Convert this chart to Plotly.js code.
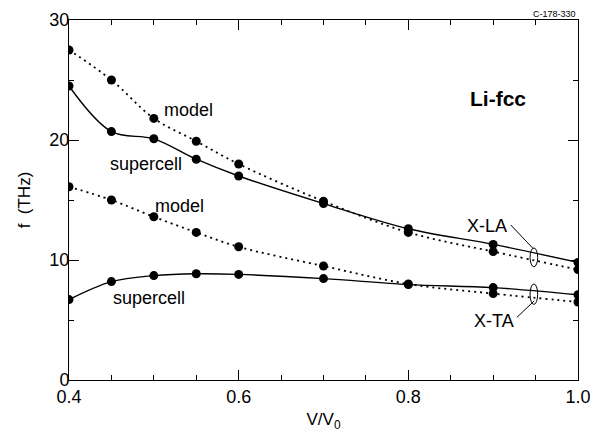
<!DOCTYPE html>
<html>
<head>
<meta charset="utf-8">
<script src="https://cdn.plot.ly/plotly-3.0.1.min.js"></script>
<style>
  html, body { margin: 0; padding: 0; background: #fff; }
  #chart { width: 590px; height: 432px; }
</style>
</head>
<body>
<div id="chart"></div>
<script>
// Volume ratio V/V0
const volume = [0.4, 0.45, 0.5, 0.55, 0.6, 0.7, 0.8, 0.9, 1.0];
// X-LA phonon frequency (THz)
const laModel = [27.5, 25.0, 21.8, 19.9, 18.0, 14.9, 12.3, 10.7, 9.2];
const laSupercell = [24.5, 20.7, 20.1, 18.4, 17.0, 14.7, 12.6, 11.3, 9.8];
// X-TA phonon frequency (THz)
const taModel = [16.1, 15.0, 13.6, 12.3, 11.1, 9.5, 8.0, 7.2, 6.5];
const taSupercell = [6.7, 8.2, 8.7, 8.85, 8.8, 8.45, 7.95, 7.7, 7.1];

const xTickVals = [0.4, 0.6, 0.8, 1.0];
const xTickText = ['0.4', '0.6', '0.8', '1.0'];
const yTickVals = [0, 10, 20, 30];

const FONT = 'Liberation Sans, Arial, Helvetica, sans-serif';

function series(y, dotted) {
  return {
    x: volume, y: y, type: 'scatter', mode: 'lines+markers',
    line: { color: '#000', width: dotted ? 1.8 : 1.4, shape: 'spline', smoothing: 1,
            dash: dotted ? '2px,4px' : 'solid' },
    marker: { color: '#000', size: 9 },
    showlegend: false, hoverinfo: 'skip'
  };
}

const data = [
  series(laModel, true),
  series(laSupercell, false),
  series(taModel, true),
  series(taSupercell, false)
];

const ann = (text, x, y, size, bold) => ({
  text: bold ? '<b>' + text + '</b>' : text, x: x, y: y, xref: 'x', yref: 'y',
  showarrow: false, xanchor: 'center', yanchor: 'middle',
  font: { family: FONT, size: size, color: '#000' }
});

const layout = {
  width: 590, height: 432,
  margin: { l: 69, r: 12, t: 20, b: 52, pad: 0 },
  paper_bgcolor: '#fff', plot_bgcolor: '#fff',
  font: { family: FONT, color: '#000', size: 18 },
  xaxis: {
    range: [0.4, 1.0000001], tickvals: xTickVals, ticktext: xTickText,
    ticklabeloverflow: 'allow',
    ticks: 'inside', ticklen: 10, tickwidth: 1, tickcolor: '#000',
    minor: { dtick: 0.05, tick0: 0.4, ticks: 'inside', ticklen: 5, tickwidth: 1, tickcolor: '#000', showgrid: false },
    showline: true, linecolor: '#000', linewidth: 1, mirror: 'allticks',
    showgrid: false, zeroline: false,
    tickfont: { family: FONT, size: 18, color: '#000' },
    title: { text: 'V/V<sub>0</sub>', font: { family: FONT, size: 17, color: '#000' }, standoff: 10 }
  },
  yaxis: {
    range: [0, 30], tickvals: yTickVals,
    ticks: 'inside', ticklen: 10, tickwidth: 1, tickcolor: '#000',
    minor: { dtick: 5, ticks: 'inside', ticklen: 5, tickwidth: 1, tickcolor: '#000', showgrid: false },
    showline: true, linecolor: '#000', linewidth: 1, mirror: 'allticks',
    showgrid: false, zeroline: false, ticklabelstandoff: -5,
    tickfont: { family: FONT, size: 18, color: '#000' },
    title: { text: 'f  (THz)', font: { family: FONT, size: 17, color: '#000' }, standoff: 14 }
  },
  annotations: [
    ann('model', 0.5403, 22.5, 18),
    ann('supercell', 0.4908, 18.0, 18),
    ann('model', 0.5297, 14.5, 18),
    ann('supercell', 0.4943, 6.85, 18),
    ann('Li-fcc', 0.9057, 23.5, 21, true),
    ann('X-LA', 0.8928, 12.85, 18),
    ann('X-TA', 0.901, 4.95, 18),
    { text: 'C-178-330', xref: 'paper', yref: 'paper', x: 1, y: 1.017,
      xanchor: 'right', yanchor: 'middle', showarrow: false,
      font: { family: FONT, size: 9, color: '#000' } }
  ],
  shapes: [
    { type: 'circle', xref: 'x', yref: 'y', x0: 0.9435, x1: 0.9525, y0: 9.44, y1: 11.0,
      line: { color: '#000', width: 1 } },
    { type: 'circle', xref: 'x', yref: 'y', x0: 0.9435, x1: 0.9525, y0: 6.3, y1: 8.0,
      line: { color: '#000', width: 1 } },
    { type: 'line', xref: 'x', yref: 'y', x0: 0.9207, y0: 12.92, x1: 0.9472, y1: 10.95,
      line: { color: '#000', width: 1 } },
    { type: 'line', xref: 'x', yref: 'y', x0: 0.928, y0: 5.22, x1: 0.9485, y1: 6.6,
      line: { color: '#000', width: 1 } }
  ]
};

Plotly.newPlot('chart', data, layout, { staticPlot: true, displayModeBar: false });
</script>
</body>
</html>
